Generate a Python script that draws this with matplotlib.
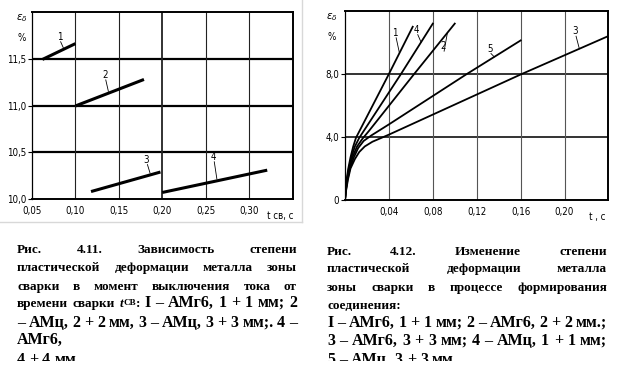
import matplotlib
matplotlib.use("Agg")
import matplotlib.pyplot as plt
from matplotlib.transforms import IdentityTransform
from matplotlib.lines import Line2D
import numpy as np

W, H = 618, 367
SERIF = "Liberation Serif"
SANS = "DejaVu Sans"
TICK = dict(fontsize=7, family=SANS, fontstretch="condensed")

# ---- Рис. 4.11: eps at switch-off vs welding time (4 straight segments)
left_names = ["1", "2", "3", "4"]
left_t = [[0.062, 0.100], [0.100, 0.179], [0.118, 0.198], [0.200, 0.321]]
left_eps = [[11.50, 11.67], [11.00, 11.285], [10.08, 10.29], [10.07, 10.31]]
left_label_t = [0.082, 0.134, 0.182, 0.259]
left_label_eps = [11.69, 11.28, 10.37, 10.40]
left_xticks = [0.05, 0.10, 0.15, 0.20, 0.25, 0.30]
left_xticklabels = ["0,05", "0,10", "0,15", "0,20", "0,25", "0,30"]
left_yticks = [10.0, 10.5, 11.0, 11.5]
left_yticklabels = ["10,0", "10,5", "11,0", "11,5"]

# ---- Рис. 4.12: eps during joint formation
right_names = ["1", "4", "2", "5", "3"]
right_t = [
    [0, 0.0005, 0.0015, 0.003, 0.005, 0.0075, 0.010, 0.040, 0.0617],
    [0, 0.0006, 0.0018, 0.0035, 0.006, 0.009, 0.013, 0.051, 0.080],
    [0, 0.0007, 0.002, 0.004, 0.007, 0.011, 0.016, 0.022, 0.063, 0.100],
    [0, 0.0008, 0.0023, 0.0045, 0.008, 0.012, 0.017, 0.024, 0.040, 0.111, 0.160],
    [0, 0.001, 0.0027, 0.005, 0.009, 0.013, 0.018, 0.025, 0.040, 0.161, 0.239],
]
right_eps = [
    [0, 0.6, 1.3, 2.0, 2.7, 3.4, 3.95, 8.0, 11.0],
    [0, 0.6, 1.3, 2.0, 2.75, 3.4, 3.95, 8.0, 11.2],
    [0, 0.6, 1.3, 2.0, 2.75, 3.4, 3.9, 4.4, 8.0, 11.2],
    [0, 0.6, 1.3, 2.0, 2.7, 3.3, 3.75, 4.1, 4.8, 8.0, 10.13],
    [0, 0.6, 1.3, 2.0, 2.6, 3.05, 3.4, 3.7, 4.15, 8.0, 10.38],
]
right_label_t = [0.0456, 0.0653, 0.0893, 0.132, 0.2095]
right_label_eps = [10.3, 10.5, 9.45, 9.3, 10.4]
right_xticks = [0.04, 0.08, 0.12, 0.16, 0.20]
right_xticklabels = ["0,04", "0,08", "0,12", "0,16", "0,20"]
right_yticks = [0, 4, 8]
right_yticklabels = ["0", "4,0", "8,0"]

fig = plt.figure(figsize=(W / 100, H / 100), dpi=100)
fig.patch.set_facecolor("white")


def px_axes(x0, y0, x1, y1):
    return fig.add_axes([x0 / W, 1 - y1 / H, (x1 - x0) / W, (y1 - y0) / H])


def style_axes(ax, xticks, xlabels, yticks, ylabels):
    ax.set_xticks(xticks)
    ax.set_xticklabels(xlabels, **TICK)
    ax.set_yticks(yticks)
    ax.set_yticklabels(ylabels, **TICK)
    ax.tick_params(axis="x", length=0, pad=5)
    ax.tick_params(axis="y", direction="out", length=3, width=0.8, pad=1)
    for side in ["top", "right", "bottom"]:
        ax.spines[side].set_linewidth(1.4)
    ax.spines["left"].set_linewidth(0.9)


# left chart
ax1 = px_axes(32, 12, 293, 199)
ax1.set_xlim(0.05, 0.3507)
ax1.set_ylim(10.0, 12.01)
style_axes(ax1, left_xticks, left_xticklabels, left_yticks, left_yticklabels)
for y in left_yticks[1:]:
    ax1.axhline(y, color="black", lw=1.6, zorder=1)
for x in left_xticks[1:]:
    ax1.axvline(x, color="#222222", lw=1.3 if x == 0.20 else 0.8, zorder=1)
for name, t, e, lt, le in zip(left_names, left_t, left_eps, left_label_t, left_label_eps):
    ax1.plot(t, e, color="black", lw=2.2, solid_capstyle="butt", zorder=3)
    ax1.text(lt, le, name, ha="center", va="bottom", **TICK)
    yl = np.interp(lt + 0.004, t, e)
    ax1.plot([lt + 0.001, lt + 0.004], [le, yl + 0.02], color="black", lw=0.6)
ax1.text(-0.04, 1.0, r"$\varepsilon_\delta$", transform=ax1.transAxes, fontsize=7.5, ha="center", va="top")
ax1.text(-0.04, 0.89, "%", transform=ax1.transAxes, ha="center", va="top", **TICK)
ax1.text(0.95, -0.065, "t св, c", transform=ax1.transAxes, ha="center", va="top", **TICK)

# right chart
ax2 = px_axes(345, 11, 608, 200)
ax2.set_xlim(0, 0.2396)
ax2.set_ylim(0, 12.0)
style_axes(ax2, right_xticks, right_xticklabels, right_yticks, right_yticklabels)
for y in right_yticks[1:]:
    ax2.axhline(y, color="#111111", lw=1.2, zorder=1)
for x in right_xticks:
    ax2.axvline(x, color="#555555", lw=0.8, zorder=1)
for name, t, e, lt, le in zip(right_names, right_t, right_eps, right_label_t, right_label_eps):
    ax2.plot(t, e, color="black", lw=1.3, zorder=3)
    ax2.text(lt, le, name, ha="center", va="bottom", **TICK)
    yl = np.interp(lt + 0.004, t, e)
    ax2.plot([lt + 0.001, lt + 0.004], [le, yl], color="black", lw=0.6)
ax2.text(-0.05, 1.0, r"$\varepsilon_\delta$", transform=ax2.transAxes, fontsize=7.5, ha="center", va="top")
ax2.text(-0.05, 0.89, "%", transform=ax2.transAxes, ha="center", va="top", **TICK)
ax2.text(0.96, -0.065, "t , c", transform=ax2.transAxes, ha="center", va="top", **TICK)

# faint border of the left scan
fig.add_artist(Line2D([302 / W, 302 / W], [1, 1 - 222 / H], transform=fig.transFigure, color="#d8d8d8", lw=1))
fig.add_artist(Line2D([0, 302 / W], [1 - 222 / H, 1 - 222 / H], transform=fig.transFigure, color="#d8d8d8", lw=1))

# ---- captions
SMALL, LARGE = 9.5, 11.5
renderer = fig.canvas.get_renderer()


def word(s, size):
    return [(s, size, "normal", 0)]


def line_words(s, size):
    return [word(w, size) for w in s.split(" ")]


def place_line(words, x0, x1, base, justify=True):
    made = []
    widths = []
    for w in words:
        parts = []
        total = 0
        for s, size, style, dy in w:
            t = fig.text(0, 0, s, fontsize=size, fontstyle=style, fontweight="bold",
                         family=SERIF, transform=IdentityTransform(), va="baseline")
            bw = t.get_window_extent(renderer).width
            parts.append((t, total, dy))
            total += bw
        made.append(parts)
        widths.append(total)
    if justify and len(words) > 1:
        gap = (x1 - x0 - sum(widths)) / (len(words) - 1)
    else:
        gap = LARGE * 100 / 72 * 0.25
    x = x0
    for parts, w in zip(made, widths):
        for t, off, dy in parts:
            t.set_position((x + off, H - base - dy))
        x += w + gap


left_lines = [
    (line_words("Рис. 4.11. Зависимость степени", SMALL), 253, True),
    (line_words("пластической деформации металла зоны", SMALL), 271, True),
    (line_words("сварки в момент выключения тока от", SMALL), 290, True),
    (line_words("времени сварки", SMALL)
     + [[("t", SMALL, "italic", 0), ("СВ", 6.5, "normal", -2), (":", SMALL, "normal", 0)]]
     + line_words("I – АМг6, 1 + 1 мм; 2", LARGE), 307, True),
    (line_words("– АМц, 2 + 2 мм, 3 – АМц, 3 + 3 мм;. 4 –", LARGE), 327, True),
    (line_words("АМг6,", LARGE), 344, False),
    (line_words("4 + 4 мм", LARGE), 364, False),
]
right_lines = [
    (line_words("Рис. 4.12. Изменение степени", SMALL), 255, True),
    (line_words("пластической деформации металла", SMALL), 272, True),
    (line_words("зоны сварки в процессе формирования", SMALL), 291, True),
    (line_words("соединения:", SMALL), 309, False),
    (line_words("I – АМг6, 1 + 1 мм; 2 – АМг6, 2 + 2 мм.;", LARGE), 327, True),
    (line_words("3 – АМг6, 3 + 3 мм; 4 – АМц, 1 + 1 мм;", LARGE), 345, True),
    (line_words("5 – АМц, 3 + 3 мм", LARGE), 364, False),
]
for words, base, just in left_lines:
    place_line(words, 17, 297, base, just)
for words, base, just in right_lines:
    place_line(words, 327, 607, base, just)

# the scan is cut just above the bottom edge
fig.add_artist(plt.Rectangle((0, 0), 1, 6 / H, transform=fig.transFigure,
                             facecolor="white", edgecolor="none", zorder=10))

fig.savefig("out.png", dpi=100)
